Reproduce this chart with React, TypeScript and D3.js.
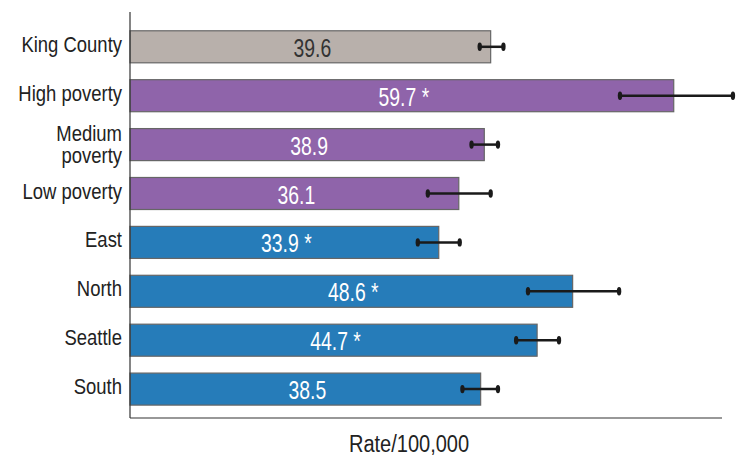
import React from "react";
import * as d3 from "d3";

const categories = ["King County", "High poverty", "Medium poverty", "Low poverty", "East", "North", "Seattle", "South"];
const labelLines = [["King County"], ["High poverty"], ["Medium", "poverty"], ["Low poverty"], ["East"], ["North"], ["Seattle"], ["South"]];
const rates = [39.6, 59.7, 38.9, 36.1, 33.9, 48.6, 44.7, 38.5];
const lower = [38.4, 53.8, 37.5, 32.7, 31.6, 43.7, 42.4, 36.5];
const upper = [41.0, 66.2, 40.4, 39.6, 36.2, 53.7, 47.1, 40.4];
const significant = [false, true, false, false, true, true, true, false];
const groups = ["county", "poverty", "poverty", "poverty", "region", "region", "region", "region"];
const groupColors: Record<string, string> = { county: "#b8b0ab", poverty: "#8f64aa", region: "#267cb9" };

function NText({ x, y, sx, size, anchor, fill, children }: any) {
  return (
    <text transform={`translate(${x},${y}) scale(${sx},1)`} textAnchor={anchor} fontSize={size} fill={fill}>
      {children}
    </text>
  );
}

export default function App() {
  const W = 740, H = 457;
  const x = d3.scaleLinear().domain([0, 65]).range([130, 722]);
  const y = d3.scaleBand<string>().domain(categories).range([22.35, 413.55]).paddingInner(0.345).paddingOuter(0.1725);
  const font = "'Liberation Sans', Arial, sans-serif";
  return (
    <svg width={W} height={H} style={{ position: "absolute", left: 0, top: 0, background: "#fff" }} fontFamily={font}>
      {categories.map((c, i) => {
        const y0 = y(c)!;
        const bw = y.bandwidth();
        const cy = y0 + bw / 2;
        const lines = labelLines[i];
        return (
          <g key={c}>
            <rect x={x(0)} y={y0} width={x(rates[i]) - x(0)} height={bw} fill={groupColors[groups[i]]} stroke="#666" strokeWidth={1.2} />
            <NText x={(x(0) + x(rates[i])) / 2 + 2} y={cy + 10} sx={0.76} size={25.5} anchor="middle" fill={groups[i] === "county" ? "#333" : "#fff"}>
              {rates[i].toFixed(1) + (significant[i] ? " *" : "")}
            </NText>
            <line x1={x(lower[i])} x2={x(upper[i])} y1={cy} y2={cy} stroke="#1a1a1a" strokeWidth={2.5} />
            <ellipse cx={x(lower[i])} cy={cy} rx={2.2} ry={4.2} fill="#1a1a1a" />
            <ellipse cx={x(upper[i])} cy={cy} rx={2.2} ry={4.2} fill="#1a1a1a" />
            {lines.map((l, j) => (
              <NText key={j} x={122} y={lines.length === 1 ? cy + 5 : cy - 4 + j * 22} sx={0.84} size={22} anchor="end" fill="#222">
                {l}
              </NText>
            ))}
          </g>
        );
      })}
      <line x1={130} x2={130} y1={12} y2={418} stroke="#333" strokeWidth={1.2} />
      <line x1={130} x2={722} y1={418} y2={418} stroke="#333" strokeWidth={1.2} />
      <NText x={409} y={452} sx={0.87} size={23} anchor="middle" fill="#222">Rate/100,000</NText>
    </svg>
  );
}
